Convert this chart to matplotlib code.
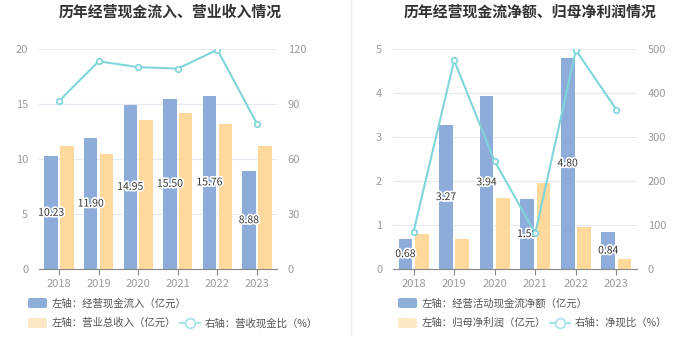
import numpy as np
import matplotlib.pyplot as plt
from matplotlib.patches import FancyBboxPatch
from matplotlib.lines import Line2D
import matplotlib.patheffects as pe

plt.rcParams['font.family'] = ['Noto Sans CJK SC', 'DejaVu Sans']

# data
years = ['2018', '2019', '2020', '2021', '2022', '2023']
cash_in = [10.23, 11.90, 14.95, 15.50, 15.76, 8.88]
revenue = [11.17, 10.50, 13.58, 14.18, 13.18, 11.20]
cash_rev_ratio = [91.6, 113.3, 110.1, 109.3, 119.6, 79.3]

net_cash = [0.68, 3.27, 3.94, 1.59, 4.80, 0.84]
net_profit = [0.80, 0.69, 1.61, 1.95, 0.965, 0.232]
net_cash_ratio = [85.0, 474.0, 244.7, 81.5, 497.4, 362.1]

BLUE = '#8eacda'
ORANGE = '#fed99b'
LINE = '#7fd5d9'
GRID = '#e6e9f2'
TICK = '#9a9a9a'

fig = plt.figure(figsize=(7, 3.6), dpi=100)


def px(x0, y0, x1, y1):
    return [x0 / 700, 1 - y1 / 360, (x1 - x0) / 700, (y1 - y0) / 360]


def panel(rect, bars_a, bars_b, ratio, ylim, yticks, rlim, rticks):
    ax = fig.add_axes(rect)
    x = np.arange(len(years))
    ax.bar(x - 0.2, bars_a, width=0.34, color=BLUE, zorder=2)
    ax.bar(x + 0.2, bars_b, width=0.34, color=ORANGE, zorder=2)
    for xi, v in zip(x, bars_a):
        ax.text(xi - 0.2, v / 2, f'{v:.2f}', ha='center', va='center', fontsize=7.5,
                color='#333333', zorder=6,
                path_effects=[pe.withStroke(linewidth=2.5, foreground='white')])
    ax.set_xlim(-0.5, len(years) - 0.5)
    ax.set_ylim(*ylim)
    ax.set_yticks(yticks)
    ax.set_xticks(x)
    ax.set_xticklabels(years)
    ax.grid(True, axis='y', color=GRID, linewidth=0.8, zorder=0)
    for s in ['top', 'right', 'left']:
        ax.spines[s].set_visible(False)
    ax.spines['bottom'].set_color('#888888')
    ax.tick_params(axis='y', length=0, colors=TICK, labelsize=8, pad=8)
    ax.tick_params(axis='x', length=4, color='#888888', colors=TICK, labelsize=8)

    # line on its own axis, drawn above bars and labels
    ax2 = ax.twinx()
    ax2.plot(x, ratio, color=LINE, linewidth=1.5, marker='o', markersize=4,
             markerfacecolor='white', markeredgecolor=LINE, markeredgewidth=1.2, zorder=5)
    ax2.set_ylim(*rlim)
    ax2.set_yticks(rticks)
    for s in ax2.spines.values():
        s.set_visible(False)
    ax2.tick_params(axis='y', length=0, colors=TICK, labelsize=8, pad=8)
    return ax, ax2


panel(px(39.3, 49, 276.7, 269), cash_in, revenue, cash_rev_ratio,
      (0, 20), [0, 5, 10, 15, 20], (0, 120), [0, 30, 60, 90, 120])
panel(px(393.3, 49, 636.7, 269), net_cash, net_profit, net_cash_ratio,
      (0, 5), [0, 1, 2, 3, 4, 5], (0, 500), [0, 100, 200, 300, 400, 500])

fig.text(170 / 700, 1 - 12 / 360, '历年经营现金流入、营业收入情况', ha='center', va='center',
         fontsize=10.7, fontweight='bold', color='#333333')
fig.text(530 / 700, 1 - 12 / 360, '历年经营现金流净额、归母净利润情况', ha='center', va='center',
         fontsize=10.7, fontweight='bold', color='#333333')

# divider
fig.add_artist(Line2D([351 / 700, 351 / 700], [1, 1 - 335 / 360], color='#eeeeee', linewidth=1))


def legend_patch(x, y, color, label):
    fig.add_artist(FancyBboxPatch((x / 700, 1 - (y + 5) / 360), 19 / 700, 10 / 360,
                                  boxstyle='round,pad=0,rounding_size=0.004',
                                  transform=fig.transFigure, facecolor=color, edgecolor='none'))
    fig.text((x + 24) / 700, 1 - y / 360, label, ha='left', va='center', fontsize=7.5, color='#555555')


def legend_line(x, y, label):
    fig.add_artist(Line2D([x / 700, (x + 20) / 700], [1 - y / 360, 1 - y / 360],
                          color='#a9e4e6', linewidth=1.5))
    fig.add_artist(Line2D([(x + 10) / 700], [1 - y / 360], marker='o', markersize=7,
                          markerfacecolor='white', markeredgecolor='#a9e4e6', markeredgewidth=1.3))
    fig.text((x + 25) / 700, 1 - y / 360, label, ha='left', va='center', fontsize=7.5, color='#555555')


legend_patch(28, 303, BLUE, '左轴：经营现金流入（亿元）')
legend_patch(28, 323, '#fde8c6', '左轴：营业总收入（亿元）')
legend_line(180, 323, '右轴：营收现金比（%）')

legend_patch(398, 303, BLUE, '左轴：经营活动现金流净额（亿元）')
legend_patch(398, 323, '#fde8c6', '左轴：归母净利润（亿元）')
legend_line(550, 323, '右轴：净现比（%）')

plt.savefig('out.png', dpi=100)
